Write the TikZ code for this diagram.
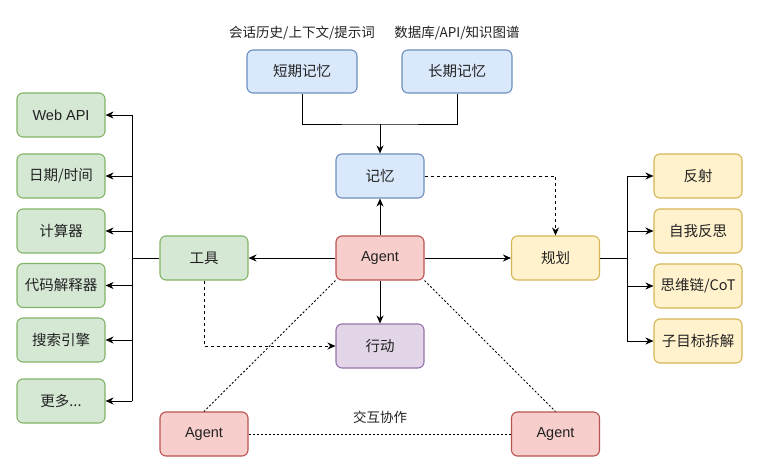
\documentclass[tikz,border=0pt]{standalone}
\usepackage{fontspec}
\setmainfont{Liberation Sans}
\newfontfamily\cjk{Noto Sans CJK SC}
\usetikzlibrary{arrows.meta}
\definecolor{gfill}{HTML}{D5E8D4}\definecolor{gline}{HTML}{82B366}
\definecolor{bfill}{HTML}{DAE8FC}\definecolor{bline}{HTML}{6C8EBF}
\definecolor{rfill}{HTML}{F8CECC}\definecolor{rline}{HTML}{B85450}
\definecolor{yfill}{HTML}{FFF2CC}\definecolor{yline}{HTML}{D6B656}
\definecolor{pfill}{HTML}{E1D5E7}\definecolor{pline}{HTML}{9673A6}
\definecolor{txt}{HTML}{222222}
\begin{document}
\begin{tikzpicture}[x=1pt,y=-1pt,
  box/.style={draw, line width=1.1pt, rounded corners=6pt, minimum width=88pt, minimum height=44pt, inner sep=0pt, text=txt, font=\fontsize{14.5}{16}\selectfont},
  gbox/.style={box, fill=gfill, draw=gline},
  bbox/.style={box, fill=bfill, draw=bline, minimum width=110pt, minimum height=43pt},
  mbox/.style={box, fill=bfill, draw=bline},
  rbox/.style={box, fill=rfill, draw=rline},
  ybox/.style={box, fill=yfill, draw=yline},
  pbox/.style={box, fill=pfill, draw=pline},
  lbl/.style={text=txt, font=\fontsize{13.5}{15}\selectfont\cjk, inner sep=0pt},
  conn/.style={line width=0.9pt, draw=black},
  arr/.style={conn, -{Stealth[length=8pt,width=7pt]}},
  dsh/.style={arr, dash pattern=on 3pt off 3pt},
  dot/.style={conn, dash pattern=on 2pt off 2pt}
]
\useasboundingbox (0,0) rectangle (759,473);
% memory
\node[lbl] (lstm) at (302,33) {会话历史/上下文/提示词};
\node[lbl] (lltm) at (457,33) {数据库/API/知识图谱};
\node[bbox] (stm) at (302,71.5) {\cjk 短期记忆};
\node[bbox] (ltm) at (457,71.5) {\cjk 长期记忆};
\node[mbox] (mem) at (380,176) {\cjk 记忆};
\node[rbox] (agent) at (380,258) {Agent};
\node[gbox] (tool) at (204,258) {\cjk 工具};
\node[ybox] (plan) at (555.5,258) {\cjk 规划};
\node[pbox] (act) at (380,346) {\cjk 行动};
\node[rbox] (a2) at (204,434) {Agent};
\node[rbox] (a3) at (555.5,434) {Agent};
% tools
\node[gbox] (web) at (61,115) {Web API};
\node[gbox] (date) at (61,176) {\cjk 日期/时间};
\node[gbox] (calc) at (61,231) {\cjk 计算器};
\node[gbox] (code) at (61,285.5) {\cjk 代码解释器};
\node[gbox] (search) at (61,340) {\cjk 搜索引擎};
\node[gbox] (more) at (61,401) {\cjk 更多...};
% planning
\node[ybox] (refl) at (698,176) {\cjk 反射};
\node[ybox] (self) at (698,231) {\cjk 自我反思};
\node[ybox] (cot) at (698,286) {\cjk 思维链/CoT};
\node[ybox] (sub) at (698,341) {\cjk 子目标拆解};
\node[lbl] (coop) at (380,417) {交互协作};
% memory connectors
\coordinate (join) at (380,124);
\draw[conn] (stm.south) |- (join) -| (ltm.south);
\draw[arr] (join) -- (mem.north);
\draw[arr] (agent.north) -- (mem.south);
\draw[arr] (agent.west) -- (tool.east);
\draw[arr] (agent.east) -- (plan.west);
\draw[arr] (agent.south) -- (act.north);
\draw[dsh] (tool.south) |- (act.west);
\draw[dsh] (mem.east) -| (plan.north);
% tool bus
\coordinate (tb) at (132,258);
\draw[conn] (tool.west) -- (tb);
\draw[conn] (tb |- web.east) -- (tb |- more.east);
\foreach \n in {web,date,calc,code,search,more}
  \draw[arr] (tb |- \n.east) -- (\n.east);
% plan bus
\coordinate (pb) at (627,258);
\draw[conn] (plan.east) -- (pb);
\draw[conn] (pb |- refl.west) -- (pb |- sub.west);
\foreach \n in {refl,self,cot,sub}
  \draw[arr] (pb |- \n.west) -- (\n.west);
% multi-agent
\draw[dot] (agent.south west) -- (a2.north);
\draw[dot] (agent.south east) -- (a3.north);
\draw[dot] (a2.east) -- (a3.west);
\end{tikzpicture}
\end{document}
